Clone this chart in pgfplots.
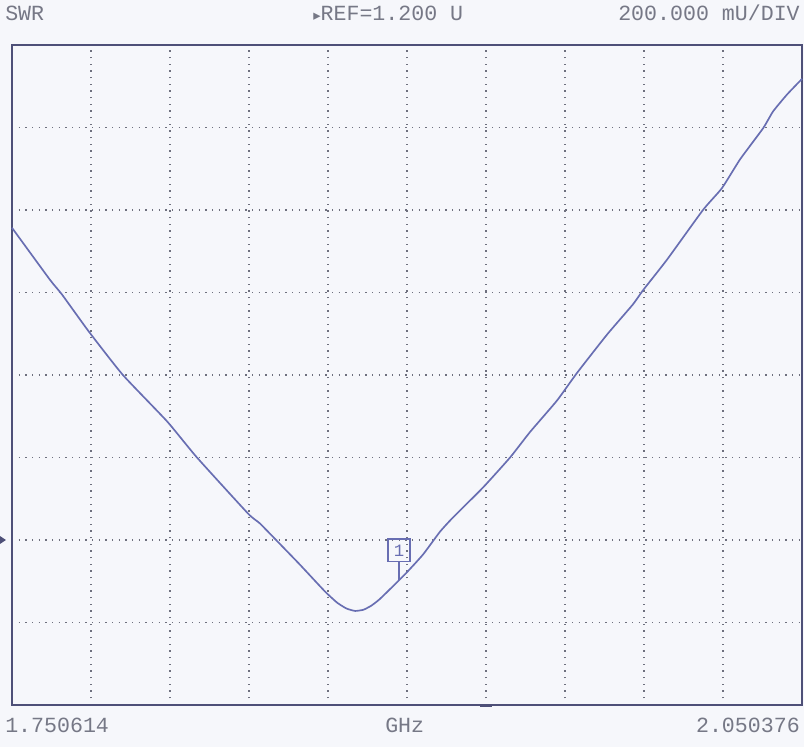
\documentclass[border=0pt]{standalone}
\usepackage{pgfplots}
\pgfplotsset{compat=1.18}
\usepackage{fontspec}
\setmainfont{Liberation Sans}
\newfontfamily\scr{Liberation Mono}
\newfontfamily\sym{DejaVu Sans}
\definecolor{bg}{RGB}{246,247,251}
\definecolor{trace}{RGB}{104,110,178}
\definecolor{gridc}{RGB}{110,112,126}
\definecolor{frame}{RGB}{78,80,120}
\definecolor{txt}{RGB}{118,120,134}
\pgfplotstableread{
f v
1.7506 1.957
1.7650 1.831
1.7696 1.795
1.7798 1.705
1.7927 1.600
1.8094 1.488
1.8208 1.400
1.8402 1.264
1.8447 1.240
1.8534 1.183
1.8599 1.140
1.8694 1.075
1.8740 1.048
1.8775 1.034
1.8808 1.028
1.8840 1.031
1.8870 1.041
1.8902 1.057
1.8971 1.100
1.9005 1.122
1.9066 1.165
1.9130 1.220
1.9180 1.255
1.9293 1.327
1.9396 1.400
1.9472 1.462
1.9574 1.538
1.9650 1.605
1.9764 1.698
1.9862 1.771
1.9900 1.805
1.9992 1.880
2.0128 2.000
2.0200 2.053
2.0269 2.123
2.0356 2.198
2.0394 2.239
2.0447 2.280
2.0504 2.318
}\swr
\begin{document}
\begin{tikzpicture}
\useasboundingbox (-9pt,-31.5pt) rectangle (594pt,528.75pt);
\fill[bg] (-9pt,-31.5pt) rectangle (594pt,528.75pt);
\begin{axis}[
  at={(0pt,0pt)}, anchor=south west,
  scale only axis, width=592.5pt, height=495pt,
  xmin=1.750614, xmax=2.050376, ymin=0.8, ymax=2.4,
  xtick={1.7805902,1.8105664,1.8405426,1.8705188,1.900495,1.9304712,1.9604474,1.9904236,2.0203998},
  ytick={1.0,1.2,1.4,1.6,1.8,2.0,2.2},
  xticklabels={}, yticklabels={},
  major tick length=0pt,
  grid=major,
  major grid style={color=gridc, line width=1pt, dash pattern=on 1pt off 4pt},
  axis line style={color=frame, line width=1.5pt},
  clip=false,
]
\addplot[color=trace, line width=1.25pt, no markers, smooth, tension=0.3] table[x=f, y=v] {\swr};
\coordinate (m1) at (axis cs:1.8975,1.102);
\coordinate (ref) at (axis cs:1.750614,1.2);
\end{axis}
\draw[color=trace, line width=1pt] (m1) -- ++(0,13.5pt)
  node[anchor=south, draw=trace, line width=1.1pt, minimum width=16.5pt, minimum height=17pt, inner sep=0pt, text=trace, font=\scr\fontsize{13}{13}\selectfont] {1};
\fill[color=frame] (ref) ++(-9pt,3pt) -- ++(4.5pt,-3pt) -- ++(-4.5pt,-3pt) -- cycle;
\draw[color=frame, line width=2.2pt] (351pt,-0.6pt) -- (360pt,-0.6pt);
\begin{scope}[every node/.style={inner sep=0pt, text=txt, font=\scr\fontsize{16.2}{18}\selectfont}]
\node[anchor=base west] at (-5.25pt,513pt) {SWR};
\node[anchor=base west] at (225.75pt,513pt) {{\sym\fontsize{11}{12}\selectfont ▸}REF=1.200 U};
\node[anchor=base east] at (591pt,513pt) {200.000 mU/DIV};
\node[anchor=base west] at (-5.25pt,-20.25pt) {1.750614};
\node[anchor=base west] at (279.75pt,-20.25pt) {GHz};
\node[anchor=base east] at (591pt,-20.25pt) {2.050376};
\end{scope}
\end{tikzpicture}
\end{document}
